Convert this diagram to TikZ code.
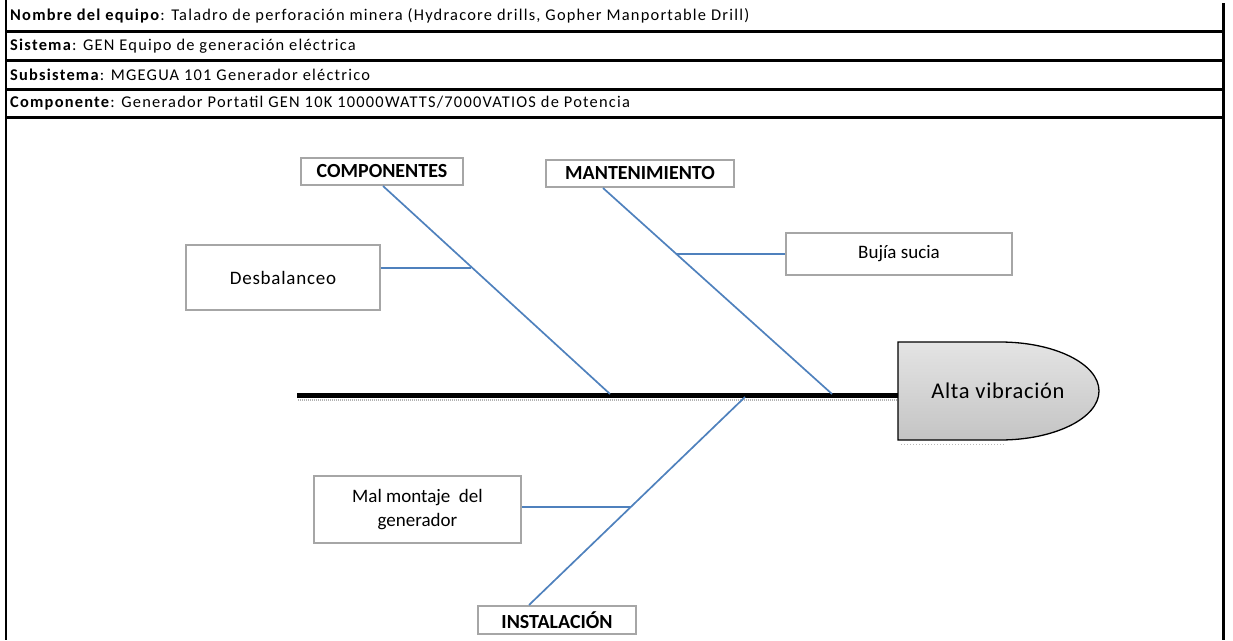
\documentclass[tikz,border=0pt]{standalone}
\usepackage{fontspec}
\setmainfont{Carlito}
\definecolor{branch}{HTML}{4F81BD}
\definecolor{boxline}{HTML}{A6A6A6}
\definecolor{headtop}{HTML}{E4E4E4}
\definecolor{headbot}{HTML}{C4C4C4}
\begin{document}
\begin{tikzpicture}[x=1pt,y=-1pt,
  hdr/.style={anchor=west,inner sep=0pt,font=\fontsize{16.4}{18}\selectfont\addfontfeatures{LetterSpace=7.5}},
  rule/.style={line width=3pt,black},
  catbox/.style={draw=boxline,line width=2pt,fill=white,inner sep=0pt,font=\fontsize{20}{22}\selectfont\bfseries,align=center},
  causebox/.style={draw=boxline,line width=1.8pt,fill=white,inner sep=0pt,font=\fontsize{19}{24}\selectfont,align=center},
  bone/.style={draw=branch,line width=1.7pt}]
\useasboundingbox (0,0) rectangle (1233,640);
% frame and header rows
\draw[line width=2pt] (6,0) -- (6,640);
\draw[line width=3pt] (1223,3) -- (1223,640);
\draw[rule] (6,31.5) -- (1223,31.5);
\draw[rule] (6,60.5) -- (1223,60.5);
\draw[rule] (6,89) -- (1223,89);
\draw[rule] (6,117.5) -- (1223,117.5);
\node[hdr] (h1) at (10,16) {\textbf{Nombre del equipo}: Taladro de perforación minera (Hydracore drills, Gopher Manportable Drill)};
\node[hdr] (h2) at (10,46) {\textbf{Sistema}: GEN Equipo de generación eléctrica};
\node[hdr] (h3) at (10,74.5) {\textbf{Subsistema}: MGEGUA 101 Generador eléctrico};
\node[hdr] (h4) at (10,103) {\textbf{Componente}: Generador Portatil GEN 10K 10000WATTS/7000VATIOS de Potencia};
% head
\draw[gray!55,line width=1pt,dotted] (901,444) -- (1005,444);
\draw[black,line width=1.3pt,top color=headtop,bottom color=headbot]
  (898,342) -- (1000,342) .. controls (1054.7,342) and (1099,363.9) .. (1099,391)
  .. controls (1099,418.1) and (1054.7,440) .. (1000,440) -- (898,440) -- cycle;
\node[font=\fontsize{22.5}{24}\selectfont\addfontfeatures{LetterSpace=3},inner sep=0pt] (head) at (998,391) {Alta vibración};
\coordinate (headW) at (898,395.5);
\coordinate (tail) at (297,395.5);
% spine
\draw[gray!60,line width=2pt,dash pattern=on 1pt off 1pt] (298,399.5) -- (897,399.5);
\draw[line width=5pt] (tail) -- (headW);
% category boxes
\node[catbox,minimum width=162pt,minimum height=27pt] (comp) at (382,171.5) {COMPONENTES};
\node[catbox,minimum width=188pt,minimum height=27pt] (mant) at (640,173.5) {MANTENIMIENTO};
\node[catbox,minimum width=158pt,minimum height=28pt] (inst) at (557,620) {INSTALACIÓN};
% cause boxes
\node[causebox,minimum width=194pt,minimum height=65pt,font=\fontsize{19}{24}\selectfont\addfontfeatures{LetterSpace=4}] (desb) at (283,277.5) {Desbalanceo};
\node[causebox,minimum width=226pt,minimum height=42pt] (bujia) at (899,254) {Bujía sucia};
\node[causebox,minimum width=207pt,minimum height=67pt] (malm) at (417.5,509.5) {Mal montaje\ \ del\\generador};
% bones
\coordinate (c1) at (610,394);
\coordinate (c2) at (832,394);
\coordinate (c3) at (745,397);
\draw[bone] ([xshift=1pt]comp.south) -- (c1);
\draw[bone] ([xshift=-37pt]mant.south) -- (c2);
\draw[bone] ([xshift=-28pt]inst.north) -- (c3);
\coordinate (d1) at (471,268);
\coordinate (b1) at (677,254);
\coordinate (m1) at (631,507);
\draw[bone] ([yshift=9.5pt]desb.east) -- (d1);
\draw[bone] (bujia.west) -- (b1);
\draw[bone] ([yshift=2.5pt]malm.east) -- (m1);
\end{tikzpicture}
\end{document}
